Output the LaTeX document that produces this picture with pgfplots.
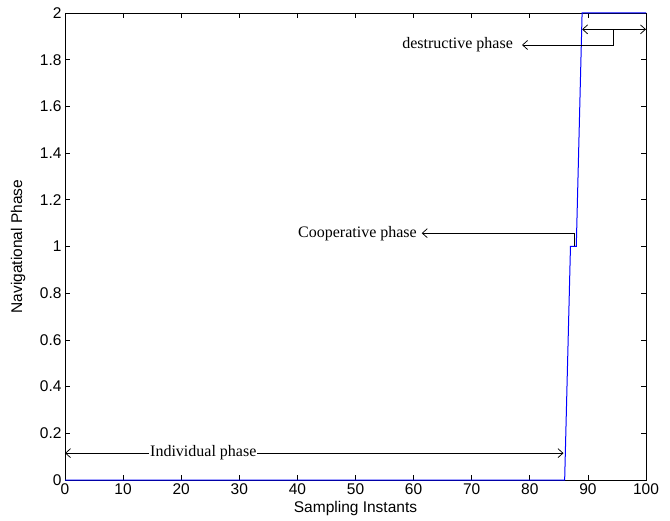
\documentclass[border=0pt]{standalone}
\usepackage{fontspec}
\setmainfont{Liberation Serif}
\setsansfont{Liberation Sans}
\usepackage{pgfplots}
\pgfplotsset{compat=1.18}
\usetikzlibrary{arrows.meta,calc}

% open MATLAB-style annotation arrow heads
\tikzset{barb/.tip={Straight Barb[length=5bp,width=9bp,line width=0.75bp]}}
\newcommand{\annfont}{\rmfamily\fontsize{16bp}{18bp}\selectfont}
\newcommand{\axfont}{\sffamily\fontsize{15.5bp}{18bp}\selectfont}

\begin{document}
\begin{tikzpicture}
\begin{axis}[
  name=ax,
  scale only axis,
  width=581bp, height=467bp,
  xmin=0, xmax=100,
  ymin=0, ymax=2,
  xtick={0,10,20,30,40,50,60,70,80,90,100},
  ytick={0,0.2,0.4,0.6,0.8,1,1.2,1.4,1.6,1.8,2},
  tick align=inside,
  major tick length=5bp,
  tick style={black, line width=0.75bp},
  axis line style={line width=0.75bp},
  ticklabel style={font=\axfont},
  /pgf/number format/assume math mode=true,
  xlabel={Sampling Instants},
  ylabel={Navigational Phase},
  xlabel style={at={(axis description cs:0.5,-0.06)}, anchor=center, font=\axfont},
  ylabel style={at={(axis description cs:-0.0809,0.5)}, anchor=center, font=\axfont},
  clip=false,
]
\addplot[color=blue, line width=1bp] coordinates {
  (0,0) (86,0) (87,1) (88,1) (89,2) (100,2)
};

% individual phase
\draw[black, line width=0.75bp, barb-barb] (0,0.115) -- (85.8,0.115);
\node[fill=white, inner sep=1bp, font=\annfont] at (23.8,0.115) {Individual phase};

% cooperative phase
\draw[black, line width=0.75bp, barb-] (61.4,1.057) -- (87.6,1.057) -- (87.6,1.0);
\node[anchor=east, inner sep=1bp, font=\annfont] at (60.76,1.057) {Cooperative phase};

% destructive phase
\draw[black, line width=0.75bp, barb-barb] (89,1.93) -- (100,1.93);
\draw[black, line width=0.75bp, barb-] (78.66,1.863) -- (94.3,1.863) -- (94.3,1.93);
\node[anchor=east, inner sep=1bp, font=\annfont] at (77.3,1.863) {destructive phase};
\end{axis}
\pgfresetboundingbox
\path ($(ax.south west)+(-65bp,-41bp)$) rectangle ($(ax.north east)+(24bp,13bp)$);
\end{tikzpicture}
\end{document}
